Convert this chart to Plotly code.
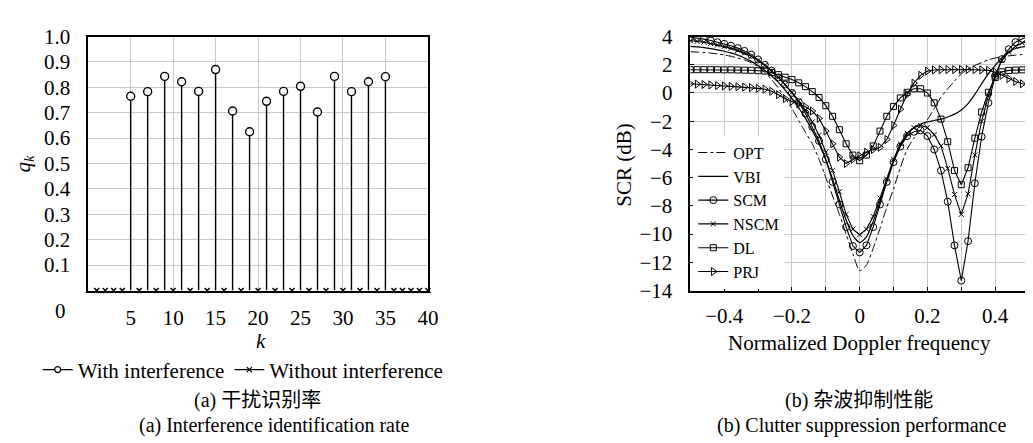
import plotly.graph_objects as go

# ---------------- data: (a) interference identification rate ----------------
k_with = [5, 7, 9, 11, 13, 15, 17, 19, 21, 23, 25, 27, 29, 31, 33, 35]
q_with = [0.765, 0.783, 0.843, 0.822, 0.784, 0.870, 0.707, 0.625,
          0.745, 0.784, 0.804, 0.703, 0.843, 0.783, 0.822, 0.842]
k_without = [1, 2, 3, 4, 6, 8, 10, 12, 14, 16, 18, 20, 22, 24, 26, 28, 30,
             32, 34, 36, 37, 38, 39, 40]
q_without = [0.0] * len(k_without)
k_ticks = [5, 10, 15, 20, 25, 30, 35, 40]
q_ticks = [0.1, 0.2, 0.3, 0.4, 0.5, 0.6, 0.7, 0.8, 0.9, 1.0]

# ---------------- data: (b) clutter suppression performance ----------------
freq = [-0.5, -0.48, -0.46, -0.44, -0.42, -0.4, -0.38, -0.36, -0.34, -0.32,
        -0.3, -0.28, -0.26, -0.24, -0.22, -0.2, -0.18, -0.16, -0.14, -0.12,
        -0.1, -0.08, -0.06, -0.04, -0.02, 0.0, 0.02, 0.04, 0.06, 0.08,
        0.1, 0.12, 0.14, 0.16, 0.18, 0.2, 0.22, 0.24, 0.26, 0.28,
        0.3, 0.32, 0.34, 0.36, 0.38, 0.4, 0.42, 0.44, 0.46, 0.48, 0.5]
scr_opt = [2.92, 2.9, 2.87, 2.83, 2.77, 2.7, 2.6, 2.48, 2.34, 2.15,
           1.85, 1.45, 0.95, 0.35, -0.35, -1.1, -1.95, -2.8, -3.6, -4.7,
           -6.0, -7.3, -8.6, -10.0, -11.4, -12.6, -12.2, -11.0, -9.6, -8.1,
           -6.8, -5.3, -4.0, -3.2, -2.6, -1.9, -1.1, -0.3, 0.3, 0.85,
           1.35, 1.7, 1.95, 2.15, 2.35, 2.48, 2.56, 2.63, 2.68, 2.72, 2.74]
scr_vbi = [3.3, 3.27, 3.22, 3.15, 3.06, 2.96, 2.84, 2.68, 2.48, 2.24,
           1.95, 1.6, 1.2, 0.75, 0.2, -0.4, -1.05, -1.8, -2.65, -3.6,
           -4.75, -6.1, -7.6, -9.0, -10.1, -10.6, -10.2, -9.1, -7.7, -6.2,
           -4.85, -3.75, -2.95, -2.45, -2.2, -2.05, -1.95, -1.85, -1.7, -1.5,
           -1.2, -0.75, -0.1, 0.65, 1.35, 1.95, 2.5, 2.9, 3.15, 3.27, 3.3]
scr_scm = [3.95, 3.9, 3.82, 3.72, 3.6, 3.48, 3.35, 3.18, 2.98, 2.72,
           2.38, 2.0, 1.58, 1.1, 0.6, 0.0, -0.65, -1.45, -2.4, -3.4,
           -4.7, -6.3, -7.9, -9.5, -10.85, -11.3, -10.8, -9.5, -7.9, -6.3,
           -4.9, -3.8, -3.05, -2.75, -2.65, -3.05, -4.0, -5.5, -7.7, -10.8,
           -13.3, -10.5, -6.4, -3.1, -0.7, 1.2, 2.4, 3.1, 3.6, 3.85, 4.0]
scr_nscm = [3.7, 3.66, 3.6, 3.5, 3.4, 3.3, 3.17, 3.02, 2.83, 2.6,
            2.3, 1.95, 1.55, 1.1, 0.6, 0.05, -0.55, -1.25, -2.05, -3.0,
            -4.2, -5.5, -7.0, -8.6, -9.65, -10.05, -9.65, -8.75, -7.45, -6.1,
            -4.7, -3.6, -2.85, -2.45, -2.3, -2.45, -2.95, -3.75, -5.35, -7.2,
            -8.6, -7.15, -4.4, -2.0, -0.2, 1.3, 2.3, 2.9, 3.3, 3.55, 3.65]
scr_dl = [1.65, 1.65, 1.65, 1.65, 1.65, 1.64, 1.64, 1.63, 1.62, 1.61,
          1.58, 1.55, 1.45, 1.3, 1.12, 0.95, 0.72, 0.45, 0.1, -0.32,
          -0.9, -1.65, -2.6, -3.6, -4.4, -4.8, -4.4, -3.75, -2.7, -1.65,
          -0.95, -0.35, 0.05, 0.3, 0.3, 0.0, -0.7, -1.85, -3.45, -5.5,
          -6.5, -5.3, -3.2, -1.35, 0.05, 1.1, 1.5, 1.6, 1.62, 1.64, 1.65]
scr_prj = [0.65, 0.63, 0.6, 0.57, 0.53, 0.5, 0.47, 0.44, 0.42, 0.38,
           0.33, 0.27, 0.12, -0.12, -0.4, -0.6, -0.78, -0.98, -1.28, -1.8,
           -2.7, -3.6, -4.55, -5.0, -4.7, -4.45, -4.2, -4.0, -3.85, -3.3,
           -2.3, -1.15, -0.1, 0.7, 1.25, 1.55, 1.63, 1.65, 1.66, 1.66,
           1.66, 1.66, 1.65, 1.64, 1.6, 1.48, 1.25, 1.02, 0.82, 0.65, 0.55]
f_ticks = [-0.4, -0.2, 0.0, 0.2, 0.4]
f_ticktext = ["\u22120.4", "\u22120.2", "0", "0.2", "0.4"]
f_minor = [-0.3, -0.1, 0.1, 0.3]
s_ticks = [4, 2, 0, -2, -4, -6, -8, -10, -12, -14]

# ---------------- geometry ----------------
W, H = 1033, 443
FONT = "Liberation Serif, Noto Sans CJK SC, serif"
FS = 21
GRID = "#c8c8c8"


def px(x):
    return x / W


def py(y):
    return 1 - y / H


fig = go.Figure()

# ---- left chart: stems
stem_x, stem_y = [], []
for k, q in zip(k_with, q_with):
    stem_x += [k, k, None]
    stem_y += [0, q, None]
fig.add_trace(go.Scatter(x=stem_x, y=stem_y, mode="lines",
                         line=dict(color="black", width=1.4),
                         showlegend=False, hoverinfo="skip",
                         xaxis="x", yaxis="y"))
fig.add_trace(go.Scatter(x=k_with, y=q_with, mode="markers",
                         marker=dict(symbol="circle", size=8, color="white",
                                     line=dict(color="black", width=1.4)),
                         showlegend=False, xaxis="x", yaxis="y",
                         name="With interference"))
fig.add_trace(go.Scatter(x=k_without, y=q_without, mode="markers",
                         marker=dict(symbol="x-thin", size=5,
                                     line=dict(color="black", width=1.5)),
                         showlegend=False, cliponaxis=False,
                         xaxis="x", yaxis="y", name="Without interference"))
# legend entries (left)
fig.add_trace(go.Scatter(x=[None], y=[None], mode="lines+markers",
                         name="With interference", legend="legend",
                         line=dict(color="black", width=1.2),
                         marker=dict(symbol="circle", size=6, color="white",
                                     line=dict(color="black", width=1.2)),
                         xaxis="x", yaxis="y"))
fig.add_trace(go.Scatter(x=[None], y=[None], mode="lines+markers",
                         name="Without interference", legend="legend",
                         line=dict(color="black", width=1.2),
                         marker=dict(symbol="x-thin", size=5,
                                     line=dict(color="black", width=1.2)),
                         xaxis="x", yaxis="y"))

# ---- right chart: curves
specs = [
    ("OPT", scr_opt, dict(dash="dashdot", width=1), None),
    ("VBI", scr_vbi, dict(width=1.2), None),
    ("SCM", scr_scm, dict(width=1.1), dict(symbol="circle-open", size=7)),
    ("NSCM", scr_nscm, dict(width=1.1), dict(symbol="x-thin-open", size=5)),
    ("DL", scr_dl, dict(width=1.1), dict(symbol="square-open", size=6)),
    ("PRJ", scr_prj, dict(width=1.1), dict(symbol="triangle-right-open", size=7)),
]
for name, vals, ln, mk in specs:
    line = dict(color="black", **ln)
    if mk is None:
        fig.add_trace(go.Scatter(x=freq, y=vals, mode="lines", name=name,
                                 line=dict(shape="spline", smoothing=0.6, **line),
                                 legend="legend2", xaxis="x2", yaxis="y2"))
    else:
        fig.add_trace(go.Scatter(x=freq, y=vals, mode="lines+markers", name=name,
                                 line=line,
                                 marker=dict(color="black",
                                             line=dict(color="black", width=1),
                                             **mk),
                                 legend="legend2", xaxis="x2", yaxis="y2"))

ydom = [py(286), py(17.5)]
axis_common = dict(showline=True, linecolor="black", linewidth=1.5, mirror=True,
                   showgrid=True, gridcolor=GRID, gridwidth=1, zeroline=False,
                   tickfont=dict(family=FONT, size=FS, color="black"))

fig.update_layout(
    width=W, height=H,
    margin=dict(l=0, r=0, t=0, b=0),
    paper_bgcolor="white", plot_bgcolor="white",
    font=dict(family=FONT, size=FS, color="black"),
    xaxis=dict(domain=[px(81), px(424)], range=[0, 40], tickvals=k_ticks,
               ticks="", ticklabelstandoff=8, anchor="y", **axis_common),
    yaxis=dict(domain=ydom, range=[0, 1.0], tickvals=q_ticks,
               ticktext=[f"{v:.1f}" for v in q_ticks], ticks="",
               ticklabelstandoff=12, anchor="x", **axis_common),
    xaxis2=dict(domain=[px(689), px(1031)], range=[-0.5, 0.5], tickvals=f_ticks,
                ticktext=f_ticktext, ticks="inside", ticklen=4, tickcolor="black",
                minor=dict(tickvals=f_minor, showgrid=True, gridcolor=GRID,
                           gridwidth=1, ticks="inside", ticklen=4,
                           tickcolor="black"),
                ticklabelstandoff=6, anchor="y2", **axis_common),
    yaxis2=dict(domain=ydom, range=[-14, 4], tickvals=s_ticks,
                ticktext=[str(v).replace("-", "\u2212") for v in s_ticks],
                ticks="inside", ticklen=4, tickcolor="black",
                ticklabelstandoff=12, anchor="x2", **axis_common),
    legend=dict(orientation="h", x=px(30), y=py(370), xanchor="left",
                yanchor="middle", bgcolor="rgba(0,0,0,0)", itemwidth=30,
                font=dict(family=FONT, size=FS, color="black"),
                tracegroupgap=0),
    legend2=dict(x=px(692), y=py(284), xanchor="left", yanchor="bottom",
                 bgcolor="white", itemwidth=30,
                 font=dict(family=FONT, size=16, color="black"),
                 tracegroupgap=0),
    showlegend=True,
)

ann = [
    ("0", 53, 308, 0, FS),
    ("<i>k</i>", 255, 339, 0, FS),
    ("<i>q</i><sub><i>k</i></sub>", 16, 152, -90, FS),
    ("SCR (dB)", 622, 153, -90, FS),
    ("Normalized Doppler frequency", 860, 341, 0, FS),
    ("(a) 干扰识别率", 252, 402, 0, 20),
    ("(a) Interference identification rate", 269, 429, 0, 20),
    ("(b) 杂波抑制性能", 859, 402, 0, 20),
    ("(b) Clutter suppression performance", 862, 429, 0, 20),
]
for text, x, y, ang, fs in ann:
    fig.add_annotation(text=text, x=px(x), y=py(y), xref="paper", yref="paper",
                       xanchor="center", yanchor="middle", showarrow=False,
                       textangle=ang,
                       font=dict(family=FONT, size=fs, color="black"))

fig.write_html("out.html")
